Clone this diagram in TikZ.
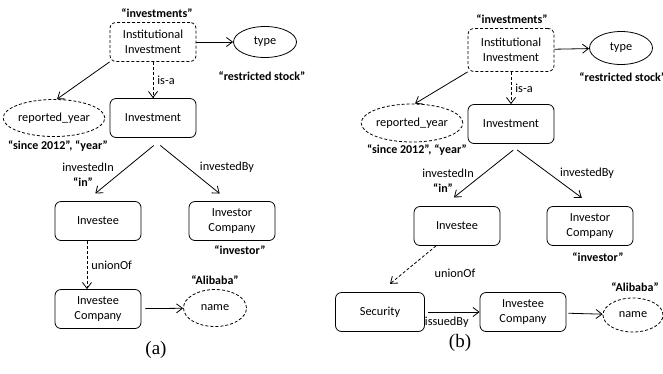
\documentclass[tikz,border=0pt]{standalone}
\usepackage{fontspec}
\setmainfont{Carlito}
\newfontfamily\capfont{Liberation Serif}
\usetikzlibrary{arrows.meta,calc,positioning,shapes.geometric}

\begin{document}
\begin{tikzpicture}[x=1pt,y=-1pt,line width=0.8pt,
		>={Straight Barb[length=6pt,width=9pt]},
		cls/.style={draw,rounded corners=6pt,minimum width=86pt,minimum height=39pt,align=center,inner sep=1pt,font=\fontsize{12.3}{15.5}\selectfont},
		clsd/.style={cls,dash pattern=on 3pt off 2pt},
		attr/.style={draw,ellipse,inner sep=0pt,font=\fontsize{12.3}{15.5}\selectfont},
		attrd/.style={attr,dash pattern=on 3pt off 2pt},
		val/.style={font=\fontsize{12}{14}\selectfont\bfseries,inner sep=0pt},
		lbl/.style={font=\fontsize{12.3}{14}\selectfont,inner sep=0pt},
		lnk/.style={->},
		lnkd/.style={->,dash pattern=on 3pt off 2pt}]
			\useasboundingbox (0,0) rectangle (663,373);
			% (a)
			\node[clsd] (iiA) at (153,42) {Institutional\\Investment};
			\node[attr,minimum width=63pt,minimum height=31pt] (typeA) at (265,42) {type};
			\node[attrd,minimum width=91pt,minimum height=37pt] (ryA) at (54,118) {reported\_year};
			\node[cls] (invA) at (153,118) {Investment};
			\node[cls] (ineA) at (98,221) {Investee};
			\node[cls] (inrA) at (232,221) {Investor\\Company};
			\node[cls] (icA) at (98,309) {Investee\\Company};
			\node[attrd,minimum width=63pt,minimum height=37pt] (nameA) at (215,308) {name};
			\node[val] (v1A) at (157,13) {“investments”};
			\node[val] (v2A) at (262,76) {“restricted stock”};
			\node[val] (v3A) at (58,146) {“since 2012”, “year”};
			\node[val] (v4A) at (83,182) {“in”};
			\node[val] (v5A) at (240,250) {“investor”};
			\node[val] (v6A) at (215,280) {“Alibaba”};
			\draw[lnk] (iiA) -- (typeA);
			\draw[lnkd] (iiA) -- node[lbl,right=4pt] {is-a} (invA);
			\draw[lnk] (iiA.south west) -- ([xshift=3pt]ryA.north);
			\draw[lnk,shorten <=12pt,shorten >=12pt] ([xshift=10pt]invA.south) -- ([xshift=-12pt]ineA.north);
			\draw[lnk,shorten <=12pt,shorten >=12pt] ([xshift=-2pt]invA.south) -- ([xshift=-3pt]inrA.north);
			\draw[lnkd] ([xshift=-11pt]ineA.south) -- node[lbl,right=4pt] {unionOf} ([xshift=-11pt]icA.north);
			\draw[lnk,shorten <=4pt] (icA) -- (nameA);
			\node[lbl] (eA1) at (88,167) {investedIn};
			\node[lbl] (eA2) at (227,167) {investedBy};
			\node[font=\capfont\fontsize{19}{22}\selectfont,inner sep=0pt] (capA) at (156,350) {(a)};
			% (b)
			\node[clsd,minimum height=43pt] (iiB) at (511,50) {Institutional\\Investment};
			\node[attr,minimum width=63pt,minimum height=33pt] (typeB) at (621,48) {type};
			\node[attrd,minimum width=91pt,minimum height=38pt] (ryB) at (412,123) {reported\_year};
			\node[cls] (invB) at (511,124) {Investment};
			\node[cls] (ineB) at (457,226) {Investee};
			\node[cls] (inrB) at (590,226) {Investor\\Company};
			\node[cls,minimum width=89pt] (secB) at (380,312) {Security};
			\node[cls] (icB) at (523,312) {Investee\\Company};
			\node[attrd,minimum width=60pt,minimum height=34pt] (nameB) at (633,315) {name};
			\node[val] (v1B) at (512,19) {“investments”};
			\node[val,anchor=west] (v2B) at (579,77) {“restricted stock”};
			\node[val] (v3B) at (417,150) {“since 2012”, “year”};
			\node[val] (v4B) at (443,188) {“in”};
			\node[val] (v5B) at (598,257) {“investor”};
			\node[val] (v6B) at (635,287) {“Alibaba”};
			\draw[lnk] (iiB) -- (typeB);
			\draw[lnkd] (iiB) -- node[lbl,right=4pt] {is-a} (invB);
			\draw[lnk] (iiB.south west) -- ([xshift=3pt]ryB.north);
			\draw[lnk,shorten <=10pt,shorten >=14pt] ([xshift=10pt]invB.south) -- ([xshift=-14pt]ineB.north);
			\draw[lnk,shorten <=10pt,shorten >=14pt] ([xshift=-2pt]invB.south) -- ([xshift=3pt]inrB.north);
			\draw[lnkd,shorten >=13pt] ([xshift=-21pt]ineB.south) -- (secB.north);
			\draw[lnk,shorten <=3pt] (secB) -- node[lbl,below=5pt,pos=0.4] {issuedBy} (icB);
			\draw[lnk,shorten <=2pt] (icB) -- (nameB);
			\node[lbl] (eB1) at (448,173) {investedIn};
			\node[lbl] (eB2) at (587,173) {investedBy};
			\node[lbl] (eB3) at (455,273) {unionOf};
			\node[font=\capfont\fontsize{19}{22}\selectfont,inner sep=0pt] (capB) at (460,343) {(b)};
		\end{tikzpicture}
\end{document}
